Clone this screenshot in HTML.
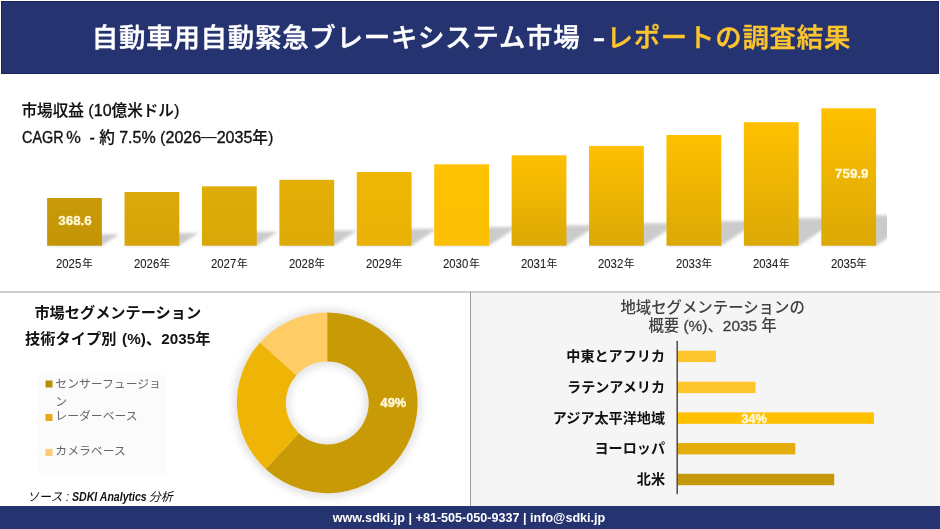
<!DOCTYPE html>
<html lang="ja">
<head>
<meta charset="utf-8">
<title>自動車用自動緊急ブレーキシステム市場 – レポートの調査結果</title>
<style>
  html, body { margin: 0; padding: 0; background: #ffffff; }
  body { width: 940px; height: 529px; overflow: hidden; position: relative;
         font-family: "Liberation Sans", "Noto Sans CJK JP", sans-serif; color: #000; }
  #stage { position: absolute; left: 0; top: 0; width: 940px; height: 529px; overflow: hidden; background: #fff; }
  .abs { position: absolute; white-space: nowrap; }
  svg.layer { position: absolute; left: 0; top: 0; }

  /* header */
  #header { left: 1px; top: 1px; width: 936px; height: 71px; background: #253370; border: 1px solid #1b2456; }
  #title { left: 0; top: 18px; width: 943px; text-align: center; font-size: 26.4px; line-height: 40px;
           font-weight: 500; color: #ffffff; letter-spacing: 0.8px; -webkit-text-stroke: 0.45px currentColor; }
  #title .y { color: #fcc42f; }
  #title .d { display: inline-block; width: 24.5px; margin-right: 1.5px; text-align: right; font-weight: 700; letter-spacing: 0; transform: scaleX(0.75); transform-origin: 100% 50%; }

  /* top chart captions */
  .cap { font-size: 15.6px; line-height: 22px; font-weight: 500; color: #111; -webkit-text-stroke: 0.2px #111; }
  .cap .l { font-size: 16px; -webkit-text-stroke: 0.35px #111; }
  .cap .pl { font-size: 16.5px; font-weight: 400; }
  .cap .cp { display: inline-block; transform: scaleX(0.9); transform-origin: 0 50%; margin-right: -4.5px; }
  .cap .j { font-size: 15.6px; font-weight: 400; -webkit-text-stroke: 0; position: relative; top: -1px; }
  .yr .d { display: inline-block; transform: scaleX(0.9); transform-origin: 0 50%; margin-right: -2.2px; }
  .yr .n { font-size: 10.5px; position: relative; top: -0.7px; }
  .yr { font-size: 12.6px; line-height: 14px; color: #222; -webkit-text-stroke: 0.1px #222; width: 78px; text-align: center; }
  .val { font-size: 13.4px; line-height: 14px; font-weight: 700; color: #fff7d6; -webkit-text-stroke: 0.35px #fff7d6; width: 55px; text-align: center; }

  /* panels */
  #hline { left: 0; top: 291px; width: 940px; height: 2px; background: #cfcfcf; }
  #rpanel { left: 471px; top: 293px; width: 469px; height: 213px; background: #f5f5f5; }
  #vline { left: 470px; top: 292px; width: 1px; height: 214px; background: #9c9c9c; }
  #footer { left: 0; top: 506px; width: 940px; height: 23px; background: #253370; }
  #foottext { left: -1px; top: 506px; width: 940px; height: 23px; line-height: 25.6px; text-align: center;
              color: #fff; font-weight: 700; font-size: 12.6px; }

  .ltitle { font-size: 15.2px; line-height: 20px; font-weight: 700; color: #111; text-align: center; width: 240px; }
  .leg { font-size: 11.85px; line-height: 18.6px; font-weight: 400; color: #666; }
  .rtitle .l { -webkit-text-stroke: 0.3px #404040; }
  .rtitle { font-size: 15.4px; line-height: 20px; font-weight: 500; color: #404040; text-align: center; width: 300px; }
  .rlab { font-size: 14.1px; line-height: 18px; font-weight: 700; color: #111; text-align: right; width: 160px; }
  .pct { font-size: 12.8px; line-height: 14px; font-weight: 700; color: #fff7d6; -webkit-text-stroke: 0.45px #fff7d6; text-align: center; width: 40px; }
  #source { left: 27px; top: 488.6px; font-size: 12px; line-height: 16px; font-style: italic; color: #111; }
  #source b { font-weight: 700; display: inline-block; transform: scaleX(0.88); transform-origin: 0 50%; margin-right: -12px; }
</style>
</head>
<body>
<div id="stage">

  <!-- header -->
  <div id="header" class="abs"></div>
  <div id="title" class="abs">自動車用自動緊急ブレーキシステム市場<span class="d">–</span><span class="y">レポートの調査結果</span></div>

  <!-- captions -->
  <div class="abs cap" id="cap1" style="left:21.5px; top:98.5px;"><span>市場収益</span> <span class="pl">(</span><span class="l">10</span><span>億米ドル</span><span class="pl">)</span></div>
  <div class="abs cap" id="cap2" style="left:21.5px; top:126px;"><span class="l cp">CAGR</span><span style="margin-left:2.4px">％</span> <span class="l" style="margin-left:4px">-</span> <span>約</span> <span class="l">7.5%</span> <span class="pl">(</span><span class="l">2026</span><span class="j">―</span><span class="l">2035</span><span>年</span><span class="pl">)</span></div>

  <!-- panels -->
  <div id="hline" class="abs"></div>
  <div id="rpanel" class="abs"></div>
  <div id="vline" class="abs"></div>
  <div class="abs" style="left:38px; top:375px; width:129px; height:100px; background:#fbfbfb;"></div>

  <!-- shapes -->
  <svg class="layer" width="940" height="529" viewBox="0 0 940 529">
    <defs>
      <filter id="blur" x="-20%" y="-20%" width="140%" height="140%"><feGaussianBlur stdDeviation="1.7"/></filter>
      <clipPath id="plot"><rect x="0" y="90" width="887" height="158"/></clipPath>
      <linearGradient id="g1" x1="0" y1="0" x2="0" y2="1"><stop offset="0" stop-color="#c99a08"/><stop offset="1" stop-color="#c39506"/></linearGradient>
      <linearGradient id="g2" x1="0" y1="0" x2="0" y2="1"><stop offset="0" stop-color="#dba909"/><stop offset="1" stop-color="#d6a408"/></linearGradient>
      <linearGradient id="g3" x1="0" y1="0" x2="0" y2="1"><stop offset="0" stop-color="#dfac08"/><stop offset="1" stop-color="#d9a707"/></linearGradient>
      <linearGradient id="g4" x1="0" y1="0" x2="0" y2="1"><stop offset="0" stop-color="#e4af06"/><stop offset="1" stop-color="#deaa06"/></linearGradient>
      <linearGradient id="g5" x1="0" y1="0" x2="0" y2="1"><stop offset="0" stop-color="#efb704"/><stop offset="1" stop-color="#e9b104"/></linearGradient>
      <linearGradient id="g6" x1="0" y1="0" x2="0" y2="1"><stop offset="0" stop-color="#ffc103"/><stop offset="1" stop-color="#fdbf03"/></linearGradient>
      <linearGradient id="g7" x1="0" y1="0" x2="0" y2="1"><stop offset="0" stop-color="#ffc000"/><stop offset="1" stop-color="#dba805"/></linearGradient>
    </defs>
    <!-- bar shadows -->
    <g clip-path="url(#plot)">
      <g filter="url(#blur)" fill="#c9c9c9" opacity="0.95">
        <polygon points="47.1,245.7 101.9,245.7 119.2,234.2 64.4,234.2"/>
        <polygon points="124.5,245.7 179.3,245.7 198.5,232.9 143.7,232.9"/>
        <polygon points="201.9,245.7 256.7,245.7 277.7,231.7 222.9,231.7"/>
        <polygon points="279.4,245.7 334.2,245.7 357.2,230.4 302.4,230.4"/>
        <polygon points="356.8,245.7 411.6,245.7 437.0,228.7 382.2,228.7"/>
        <polygon points="434.2,245.7 489.0,245.7 516.9,227.1 462.1,227.1"/>
        <polygon points="511.6,245.7 566.4,245.7 597.1,225.2 542.3,225.2"/>
        <polygon points="589.0,245.7 643.8,245.7 677.5,223.2 622.7,223.2"/>
        <polygon points="666.5,245.7 721.3,245.7 758.4,221.0 703.6,221.0"/>
        <polygon points="743.9,245.7 798.7,245.7 839.8,218.3 785.0,218.3"/>
        <polygon points="821.3,245.7 876.1,245.7 921.6,215.3 866.8,215.3"/>
      </g>
    </g>
    <g>
      <rect x="47.10" y="198" width="54.8" height="47.7" fill="url(#g1)"/>
      <rect x="124.52" y="192" width="54.8" height="53.7" fill="url(#g2)"/>
      <rect x="201.94" y="186.3" width="54.8" height="59.4" fill="url(#g3)"/>
      <rect x="279.36" y="179.8" width="54.8" height="65.9" fill="url(#g4)"/>
      <rect x="356.78" y="172" width="54.8" height="73.7" fill="url(#g5)"/>
      <rect x="434.20" y="164.3" width="54.8" height="81.4" fill="url(#g6)"/>
      <rect x="511.62" y="155.3" width="54.8" height="90.4" fill="url(#g7)"/>
      <rect x="589.04" y="145.9" width="54.8" height="99.8" fill="url(#g7)"/>
      <rect x="666.46" y="135" width="54.8" height="110.7" fill="url(#g7)"/>
      <rect x="743.88" y="122.2" width="54.8" height="123.5" fill="url(#g7)"/>
      <rect x="821.30" y="108.3" width="54.8" height="137.4" fill="url(#g7)"/>
    </g>
    <!-- donut -->
    <defs>
      <filter id="glow" x="-50%" y="-50%" width="200%" height="200%"><feGaussianBlur stdDeviation="3.6"/></filter>
    </defs>
    <circle cx="327.2" cy="403.3" r="66" fill="none" stroke="#101018" stroke-opacity="0.10" stroke-width="57" filter="url(#glow)"/>
    <g>
      <path d="M327.20,312.60 A90.3,90.3 0 1 1 265.62,468.94 L298.90,433.25 A41.5,41.5 0 1 0 327.20,361.40 Z" fill="#c89a06"/>
      <path d="M265.62,468.94 A90.3,90.3 0 0 1 260.09,342.48 L296.36,375.13 A41.5,41.5 0 0 0 298.90,433.25 Z" fill="#eeb406"/>
      <path d="M260.09,342.48 A90.3,90.3 0 0 1 327.20,312.60 L327.20,361.40 A41.5,41.5 0 0 0 296.36,375.13 Z" fill="#ffcc66"/>
    </g>
    <!-- region chart -->
    <g>
      <rect x="678" y="350.7" width="37.9" height="11.4" fill="#fdc62f"/>
      <rect x="678" y="381.7" width="77.6" height="11.4" fill="#fdc62f"/>
      <rect x="678" y="412.4" width="195.9" height="11.4" fill="#ffc000"/>
      <rect x="678" y="443.0" width="117.3" height="11.4" fill="#e4ac0c"/>
      <rect x="678" y="473.8" width="156.2" height="11.4" fill="#c4980a"/>
    </g>
    <rect x="676.5" y="340.8" width="1.4" height="153.4" fill="#404040"/>
    <!-- legend markers -->
    <rect x="45.5" y="380.5" width="7" height="7" fill="#b98d0a"/>
    <rect x="45.5" y="414" width="7" height="7" fill="#e5a919"/>
    <rect x="45.5" y="449" width="7" height="7" fill="#fbcb77"/>
  </svg>


  <!-- bar chart labels -->
  <div class="abs yr" style="left:35.5px; top:256.6px;"><span class="d">2025</span><span class="n">年</span></div>
  <div class="abs yr" style="left:112.9px; top:256.6px;"><span class="d">2026</span><span class="n">年</span></div>
  <div class="abs yr" style="left:190.3px; top:256.6px;"><span class="d">2027</span><span class="n">年</span></div>
  <div class="abs yr" style="left:267.8px; top:256.6px;"><span class="d">2028</span><span class="n">年</span></div>
  <div class="abs yr" style="left:345.2px; top:256.6px;"><span class="d">2029</span><span class="n">年</span></div>
  <div class="abs yr" style="left:422.6px; top:256.6px;"><span class="d">2030</span><span class="n">年</span></div>
  <div class="abs yr" style="left:500.0px; top:256.6px;"><span class="d">2031</span><span class="n">年</span></div>
  <div class="abs yr" style="left:577.4px; top:256.6px;"><span class="d">2032</span><span class="n">年</span></div>
  <div class="abs yr" style="left:654.9px; top:256.6px;"><span class="d">2033</span><span class="n">年</span></div>
  <div class="abs yr" style="left:732.3px; top:256.6px;"><span class="d">2034</span><span class="n">年</span></div>
  <div class="abs yr" style="left:809.7px; top:256.6px;"><span class="d">2035</span><span class="n">年</span></div>
  <div class="abs val" style="left:47.5px; top:214px;">368.6</div>
  <div class="abs val" style="left:824.3px; top:166.5px;">759.9</div>

  <!-- left bottom panel -->
  <div class="abs ltitle" style="left:-2.2px; top:302.8px;">市場セグメンテーション</div>
  <div class="abs ltitle" style="left:-2.2px; top:328.8px; word-spacing:1px; letter-spacing:0.1px;">技術タイプ別 (%)、2035年</div>
  <div class="abs leg" style="left:55.3px; top:374.5px;">センサーフュージョ<br>ン</div>
  <div class="abs leg" style="left:55.3px; top:407px;">レーダーベース</div>
  <div class="abs leg" style="left:55.3px; top:441.7px;">カメラベース</div>
  <div class="abs pct" style="left:373.4px; top:395.5px;">49%</div>
  <div id="source" class="abs">ソース : <b>SDKI Analytics</b> 分析</div>

  <!-- right bottom panel -->
  <div class="abs rtitle" style="left:562.6px; top:297.6px;">地域セグメンテーションの</div>
  <div class="abs rtitle" style="left:562.6px; top:316.2px;">概要 <span class="l">(%)</span>、<span class="l">2035</span> 年</div>
  <div class="abs rlab" style="left:505px; top:346.7px;">中東とアフリカ</div>
  <div class="abs rlab" style="left:505px; top:377.9px;">ラテンアメリカ</div>
  <div class="abs rlab" style="left:505px; top:408.8px;">アジア太平洋地域</div>
  <div class="abs rlab" style="left:505px; top:439.3px;">ヨーロッパ</div>
  <div class="abs rlab" style="left:505px; top:470.2px;">北米</div>
  <div class="abs pct" style="left:734px; top:411.5px;">34%</div>

  <!-- footer -->
  <div id="footer" class="abs"></div>
  <div id="foottext" class="abs">www.sdki.jp | +81-505-050-9337 | info@sdki.jp</div>

</div>
</body>
</html>
